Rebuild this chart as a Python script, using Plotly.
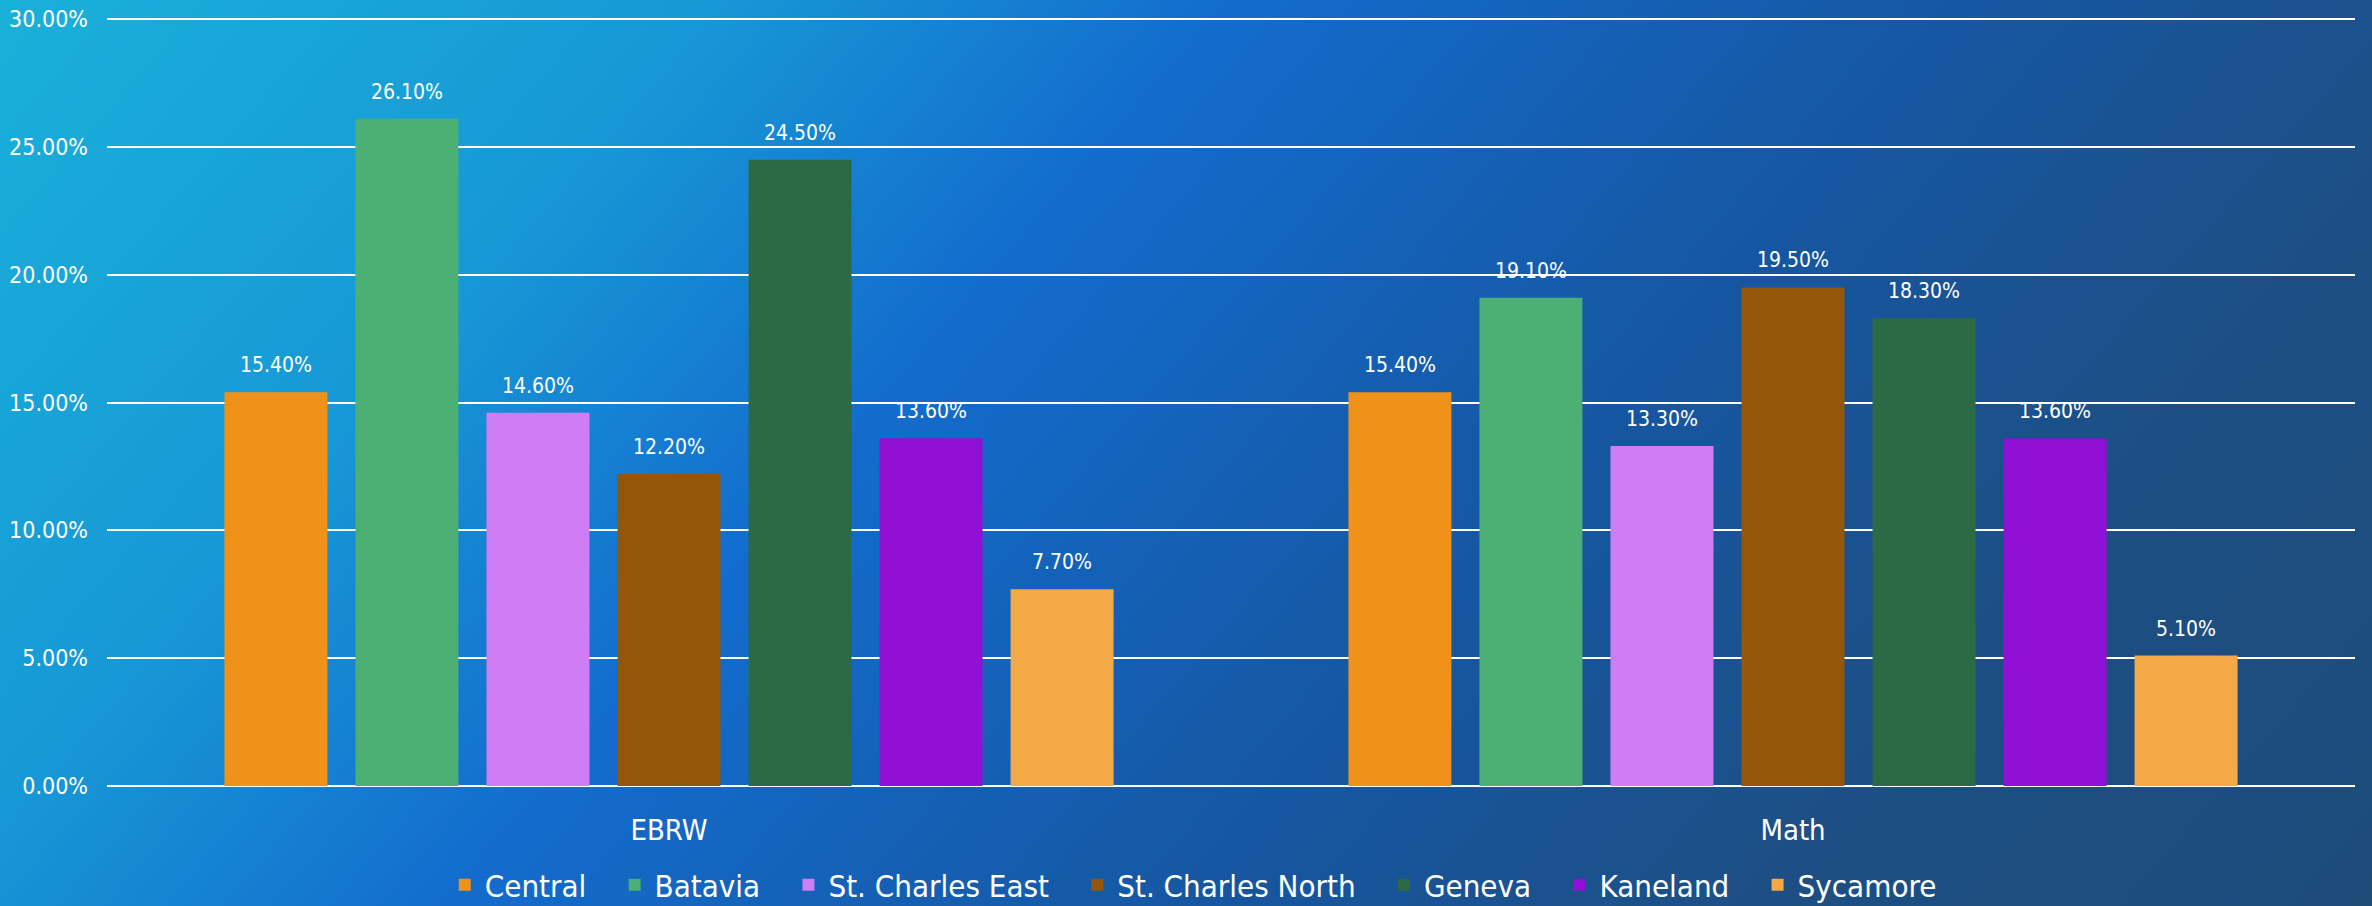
import numpy as np
import plotly.graph_objects as go

categories = ['EBRW', 'Math']
schools = ['Central', 'Batavia', 'St. Charles East', 'St. Charles North', 'Geneva', 'Kaneland', 'Sycamore']
central = [0.154, 0.154]
batavia = [0.261, 0.191]
st_charles_east = [0.146, 0.133]
st_charles_north = [0.122, 0.195]
geneva = [0.245, 0.183]
kaneland = [0.136, 0.136]
sycamore = [0.077, 0.051]
y_ticks = [0, 0.05, 0.10, 0.15, 0.20, 0.25, 0.30]

values = [central, batavia, st_charles_east, st_charles_north, geneva, kaneland, sycamore]
colors = ['#F0921A', '#4CAF73', '#CF7DF5', '#93560A', '#2C6A45', '#9010D6', '#F2A946']

FONT = 'DejaVu Sans Condensed'

fig = go.Figure()

# gradient background: heatmap on a hidden full-page subplot drawn first
gx = np.linspace(-0.05, 1.05, 60)
gy = np.linspace(-0.05, 1.05, 30)
gz = [[0.75 * x + 0.25 * (1 - y) for x in gx] for y in gy]
fig.add_trace(go.Heatmap(
    z=gz, x=gx, y=gy, showscale=False, hoverinfo='skip', zsmooth='best',
    colorscale=[[0, '#1ab6da'], [0.25, '#1798d6'], [0.4, '#136ccd'],
                [0.62, '#1656a0'], [0.78, '#1d4f84'], [1, '#1f4a76']],
    xaxis='x', yaxis='y'))

for name, vals, col in zip(schools, values, colors):
    # trailing spaces widen the gap between legend entries
    fig.add_trace(go.Bar(name=name + '\u00a0\u00a0\u2009', x=categories, y=vals, marker_color=col,
                         marker_line_width=0, xaxis='x2', yaxis='y2'))

# value labels above bars
slot = 131
for i, vals in enumerate(values):
    for cat, v in zip(categories, vals):
        fig.add_annotation(x=cat, y=v, xref='x2', yref='y2', text=f'{v * 100:.2f}%',
                           showarrow=False, yanchor='bottom', yshift=13,
                           xshift=(i - 3) * slot,
                           font=dict(family=FONT, size=21, color='white'))

fig.update_layout(
    width=2372, height=906,
    margin=dict(l=0, r=0, t=0, b=0, autoexpand=False),
    paper_bgcolor='#1a5fa8', plot_bgcolor='rgba(0,0,0,0)',
    barmode='group', bargap=0.184, bargroupgap=0.214,
    font=dict(family=FONT, color='white', size=21),
    xaxis=dict(domain=[0, 1], visible=False, range=[0, 1], fixedrange=True, automargin=False),
    yaxis=dict(domain=[0, 1], visible=False, range=[0, 1], fixedrange=True, automargin=False),
    xaxis2=dict(domain=[107 / 2372, 2355 / 2372], anchor='y2', showgrid=False,
                showline=False, zeroline=False, ticklabelstandoff=24, automargin=False,
                tickfont=dict(family=FONT, size=29, color='white')),
    yaxis2=dict(domain=[120 / 906, 889 / 906], anchor='x2', range=[0, 0.3008],
                tickvals=y_ticks, tickformat='.2%', showgrid=True, automargin=False,
                gridcolor='white', gridwidth=2, zeroline=True, zerolinecolor='white',
                zerolinewidth=2, showline=False, ticklabelstandoff=18,
                tickfont=dict(family=FONT, size=23, color='white')),
    legend=dict(orientation='h', x=0.1875, xanchor='left', y=0.023, yanchor='middle',
                font=dict(family=FONT, size=31, color='white'),
                bgcolor='rgba(0,0,0,0)', itemwidth=30, tracegroupgap=0),
    showlegend=True,
)

fig.write_html('out.html', config={'displayModeBar': False},
               post_script="document.body.style.margin='0';document.body.style.background='#1a5fa8';")
